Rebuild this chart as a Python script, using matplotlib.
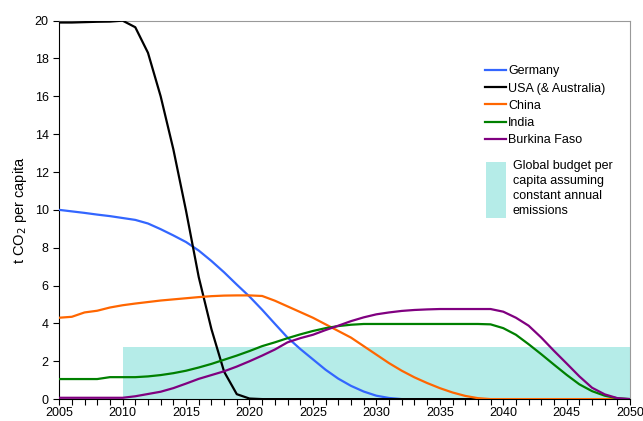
import numpy as np
import matplotlib.pyplot as plt
from matplotlib.ticker import MultipleLocator
from matplotlib.patches import Rectangle

plt.rcParams['font.family'] = ['Liberation Sans', 'DejaVu Sans']

# Jahre und Emissionen pro Kopf (t CO2)
years = np.arange(2005, 2051)

germany = [10.0, 9.92, 9.84, 9.75, 9.67, 9.57, 9.47, 9.28, 8.98, 8.65,
           8.3, 7.85, 7.3, 6.7, 6.05, 5.42, 4.72, 3.98, 3.25, 2.65,
           2.1, 1.55, 1.08, 0.7, 0.4, 0.18, 0.06, 0.0, 0.0, 0.0,
           0.0, 0.0, 0.0, 0.0, 0.0, 0.0, 0.0, 0.0, 0.0, 0.0,
           0.0, 0.0, 0.0, 0.0, 0.0, 0.0]

usa = [19.9, 19.9, 19.92, 19.94, 19.95, 20.0, 19.65, 18.3, 16.0, 13.2,
       9.95, 6.45, 3.7, 1.45, 0.26, 0.03, 0.0, 0.0, 0.0, 0.0,
       0.0, 0.0, 0.0, 0.0, 0.0, 0.0, 0.0, 0.0, 0.0, 0.0,
       0.0, 0.0, 0.0, 0.0, 0.0, 0.0, 0.0, 0.0, 0.0, 0.0,
       0.0, 0.0, 0.0, 0.0, 0.0, 0.0]

china = [4.3, 4.35, 4.58, 4.67, 4.84, 4.96, 5.05, 5.13, 5.21, 5.27,
         5.33, 5.39, 5.44, 5.47, 5.48, 5.48, 5.45, 5.2, 4.9, 4.6,
         4.3, 3.95, 3.6, 3.25, 2.8, 2.35, 1.9, 1.5, 1.15, 0.85,
         0.58, 0.35, 0.17, 0.05, 0.0, 0.0, 0.0, 0.0, 0.0, 0.0,
         0.0, 0.0, 0.0, 0.0, 0.0, 0.0]

india = [1.06, 1.06, 1.06, 1.06, 1.16, 1.16, 1.16, 1.2, 1.27, 1.37,
         1.5, 1.67, 1.86, 2.08, 2.3, 2.54, 2.8, 3.0, 3.22, 3.42,
         3.6, 3.75, 3.86, 3.93, 3.97, 3.97, 3.97, 3.97, 3.97, 3.97,
         3.97, 3.97, 3.97, 3.97, 3.95, 3.75, 3.4, 2.9, 2.37, 1.82,
         1.28, 0.78, 0.42, 0.18, 0.04, 0.0]

burkina = [0.07, 0.07, 0.07, 0.07, 0.07, 0.07, 0.15, 0.27, 0.39, 0.58,
           0.82, 1.07, 1.27, 1.47, 1.72, 2.0, 2.3, 2.62, 3.0, 3.22,
           3.4, 3.65, 3.88, 4.12, 4.32, 4.48, 4.58, 4.66, 4.71, 4.74,
           4.76, 4.76, 4.76, 4.76, 4.76, 4.62, 4.3, 3.88, 3.25, 2.55,
           1.88, 1.2, 0.6, 0.25, 0.05, 0.0]

# Globales Budget pro Kopf (konstante jaehrliche Emissionen)
budget_years = [2010, 2050]
budget_value = 2.75

fig = plt.figure(figsize=(6.43, 4.21), dpi=100)
ax = fig.add_axes([0.092, 0.052, 0.888, 0.899])

ax.fill_between(budget_years, 0, budget_value, color='#b5ece8', lw=0, zorder=1)

ax.plot(years, germany, color='#3366ff', lw=1.6, label='Germany', zorder=3)
ax.plot(years, usa, color='black', lw=1.6, label='USA (& Australia)', zorder=3)
ax.plot(years, china, color='#ff6600', lw=1.6, label='China', zorder=3)
ax.plot(years, india, color='#008000', lw=1.6, label='India', zorder=3)
ax.plot(years, burkina, color='#800080', lw=1.6, label='Burkina Faso', zorder=3)

ax.set_xlim(2005, 2050)
ax.set_ylim(0, 20)
ax.xaxis.set_major_locator(MultipleLocator(5))
ax.xaxis.set_minor_locator(MultipleLocator(1))
ax.yaxis.set_major_locator(MultipleLocator(2))
ax.tick_params(axis='both', which='both', direction='out', length=4, width=0.8,
               labelsize=9)
ax.tick_params(axis='x', pad=2)

for side in ['top', 'right']:
    ax.spines[side].set_color('#999999')
for side in ['left', 'bottom']:
    ax.spines[side].set_color('black')

ax.set_ylabel('t CO$_2$ per capita', fontsize=10.5, labelpad=4)

leg = ax.legend(loc='upper left', bbox_to_anchor=(0.745, 0.882), frameon=False,
                fontsize=9, handlelength=1.7, handletextpad=0.2,
                labelspacing=0.42, borderpad=0, borderaxespad=0)

# Legendeneintrag fuer das Budget
ax.add_patch(Rectangle((0.748, 0.4795), 0.034, 0.147, transform=ax.transAxes,
                       facecolor='#b5ece8', edgecolor='none', zorder=2))
ax.text(0.794, 0.632, 'Global budget per\ncapita assuming\nconstant annual\nemissions',
        transform=ax.transAxes, fontsize=9, va='top', ha='left', linespacing=1.32)

fig.savefig('out.png', dpi=100)
